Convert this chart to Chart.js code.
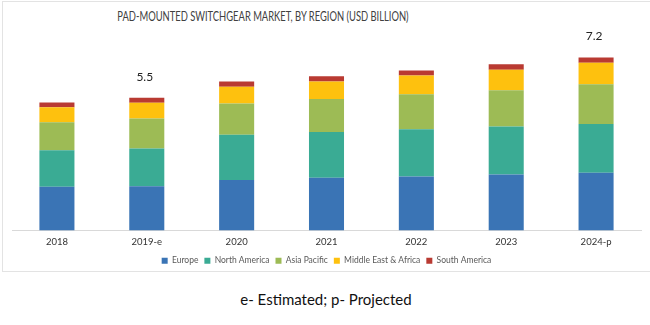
<!DOCTYPE html>
<html>
<head>
<meta charset="utf-8">
<script src="https://cdn.jsdelivr.net/npm/chart.js@4"></script>
<style>
  body { margin: 0; background: #fff; }
  #wrap { position: relative; width: 650px; height: 325px; overflow: hidden; }
  #frame { position: absolute; left: 2px; top: 1px; width: 660px; height: 271px; border: 1px solid #e3e3e3; box-sizing: border-box; }
  #title { position: absolute; left: 13px; width: 500px; top: 9px; text-align: center; font-family: Lato, sans-serif; font-size: 12.5px; color: #404040; transform: scaleX(0.75); transform-origin: 250px 0; white-space: nowrap; }
  #note { position: absolute; left: 0; width: 652px; top: 290px; text-align: center; font-family: Lato, sans-serif; font-size: 15px; color: #111; }
  #chartBox { position: absolute; left: 0; top: 0; width: 650px; height: 279px; }
</style>
</head>
<body>
<div id="wrap">
  <div id="frame"></div>
  <div id="title">PAD-MOUNTED SWITCHGEAR MARKET, BY REGION (USD BILLION)</div>
  <div id="chartBox"><canvas id="chart"></canvas></div>
  <div id="note">e- Estimated; p- Projected</div>
</div>
<script>
const years = ['2018', '2019-e', '2020', '2021', '2022', '2023', '2024-p'];
const europe = [1.81, 1.84, 2.09, 2.19, 2.24, 2.32, 2.39];
const northAmerica = [1.52, 1.56, 1.88, 1.89, 1.96, 1.99, 2.03];
const asiaPacific = [1.16, 1.24, 1.30, 1.37, 1.45, 1.51, 1.64];
const middleEastAfrica = [0.62, 0.66, 0.69, 0.73, 0.78, 0.85, 0.90];
const southAmerica = [0.20, 0.21, 0.22, 0.22, 0.21, 0.22, 0.21];
const totalLabels = ['', '5.5', '', '', '', '', '7.2'];

// total value written above the stack, only where the source shows one
const totalsPlugin = {
  id: 'totals',
  afterDatasetsDraw(chart) {
    const ctx = chart.ctx;
    const yScale = chart.scales.y;
    const xScale = chart.scales.x;
    ctx.save();
    ctx.font = '12px Lato, sans-serif';
    ctx.fillStyle = '#222';
    ctx.textAlign = 'center';
    ctx.textBaseline = 'middle';
    totalLabels.forEach((txt, i) => {
      if (!txt) return;
      const sum = europe[i] + northAmerica[i] + asiaPacific[i] + middleEastAfrica[i] + southAmerica[i];
      ctx.fillText(txt, xScale.getPixelForValue(i) - 2, yScale.getPixelForValue(sum) - 21);
    });
    ctx.restore();
  }
};

const ctx = document.getElementById('chart').getContext('2d');
new Chart(ctx, {
  type: 'bar',
  data: {
    labels: years,
    datasets: [
      { label: 'Europe', data: europe, backgroundColor: '#3a74b5' },
      { label: 'North America', data: northAmerica, backgroundColor: '#3aab94' },
      { label: 'Asia Pacific', data: asiaPacific, backgroundColor: '#9dbb55' },
      { label: 'Middle East & Africa', data: middleEastAfrica, backgroundColor: '#fec10e' },
      { label: 'South America', data: southAmerica, backgroundColor: '#b93a32' }
    ]
  },
  options: {
    responsive: true,
    maintainAspectRatio: false,
    animation: false,
    datasets: {
      bar: { barPercentage: 0.78, categoryPercentage: 0.5, borderWidth: 0 }
    },
    layout: { padding: { top: 40, left: 12, right: 9, bottom: 4 } },
    plugins: {
      legend: {
        position: 'bottom',
        labels: {
          boxWidth: 6,
          boxHeight: 6,
          padding: 6,
          color: '#595959',
          font: { family: 'Lato, sans-serif', size: 8.5 }
        }
      },
      title: { display: false },
      tooltip: { enabled: false }
    },
    scales: {
      x: {
        stacked: true,
        grid: { display: false, drawTicks: false },
        border: { color: '#d9d9d9' },
        ticks: { color: '#333', font: { family: 'Lato, sans-serif', size: 9.5 }, padding: 6 },
        afterFit(scale) { scale.height = 20; }
      },
      y: {
        stacked: true,
        display: false,
        min: 0,
        max: 7.9
      }
    }
  },
  plugins: [totalsPlugin]
});
</script>
</body>
</html>
